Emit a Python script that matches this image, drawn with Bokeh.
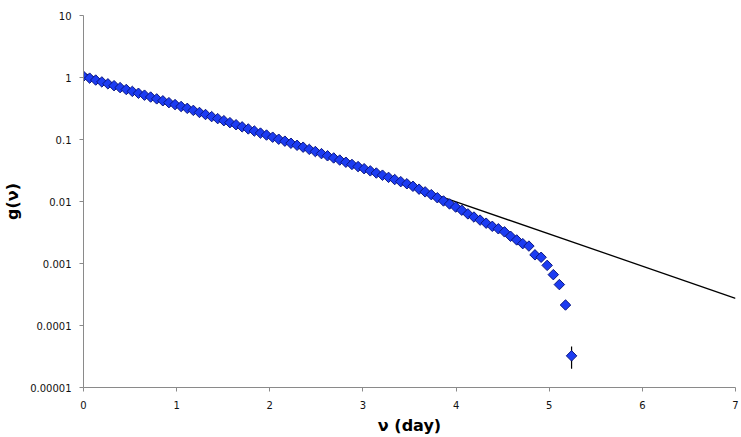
import math
from bokeh.plotting import figure
from bokeh.models import FixedTicker, ColumnDataSource
from bokeh.embed import file_html
from bokeh.resources import INLINE

# ---- data ----
nu_days = [0.0, 0.066, 0.131, 0.197, 0.262, 0.328, 0.393, 0.459, 0.524, 0.590,
           0.655, 0.721, 0.786, 0.852, 0.917, 0.983, 1.048, 1.114, 1.179, 1.245,
           1.310, 1.376, 1.441, 1.507, 1.572, 1.638, 1.703, 1.769, 1.834, 1.900,
           1.965, 2.031, 2.096, 2.162, 2.227, 2.293, 2.358, 2.424, 2.489, 2.555,
           2.620, 2.686, 2.751, 2.817, 2.882, 2.948, 3.013, 3.079, 3.144, 3.210,
           3.275, 3.341, 3.406, 3.472, 3.537, 3.603, 3.668, 3.734, 3.799, 3.865,
           3.930, 3.996, 4.061, 4.127, 4.192, 4.258, 4.323, 4.389, 4.454, 4.520,
           4.585, 4.651, 4.716, 4.782, 4.847, 4.913, 4.978, 5.044, 5.109, 5.175,
           5.240]
g_values = [1.047, 0.977, 0.910, 0.849, 0.791, 0.738, 0.687, 0.641, 0.597, 0.557,
            0.519, 0.484, 0.452, 0.421, 0.393, 0.366, 0.341, 0.318, 0.295, 0.273,
            0.253, 0.234, 0.217, 0.201, 0.187, 0.173, 0.160, 0.148, 0.137, 0.127,
            0.118, 0.109, 0.101, 0.0940, 0.0871, 0.0807, 0.0752, 0.0693, 0.0640, 0.0592,
            0.0546, 0.0504, 0.0466, 0.0430, 0.0396, 0.0366, 0.0338, 0.0312, 0.0288, 0.0266,
            0.0245, 0.0226, 0.0209, 0.0193, 0.0176, 0.0158, 0.0143, 0.0129, 0.0115, 0.0102,
            0.00912, 0.00813, 0.00724, 0.00631, 0.00562, 0.00501, 0.00447, 0.00398, 0.00363, 0.00324,
            0.00275, 0.00240, 0.00209, 0.00191, 0.00138, 0.00126, 0.000933, 0.000661, 0.000457, 0.000214,
            0.0000324]

# error bar on the last point
err_x = [5.240]
err_low = [0.0000200]
err_high = [0.0000460]

# exponential reference line
fit_x = [0.0, 7.0]
fit_y = [1.17, 0.000275]

x_ticks = [0, 1, 2, 3, 4, 5, 6, 7]
y_ticks = [0.00001, 0.0001, 0.001, 0.01, 0.1, 1, 10]
y_tick_labels = ["0.00001", "0.0001", "0.001", "0.01", "0.1", "1", "10"]

# ---- figure ----
p = figure(width=741, height=437, output_backend="svg", toolbar_location=None,
           y_axis_type="log", x_range=(0, 7), y_range=(0.00001, 10),
           min_border_left=83, min_border_right=6, min_border_top=15,
           min_border_bottom=48)
p.outline_line_color = None
p.xgrid.visible = False
p.ygrid.visible = False
p.background_fill_color = "white"
p.border_fill_color = "white"

p.line(fit_x, fit_y, line_color="black", line_width=1.3)
p.segment(x0=err_x, x1=err_x, y0=err_low, y1=err_high, line_color="black", line_width=1.2)

src = ColumnDataSource(dict(x=nu_days, y=g_values))
p.scatter("x", "y", source=src, marker="square", angle=math.pi / 4, size=7.4,
          fill_color="#1c3cf2", line_color="#0b1780", line_width=1)

# axes styling
for ax in (p.xaxis[0], p.yaxis[0]):
    ax.axis_line_color = "#8a8a8a"
    ax.major_tick_line_color = "#8a8a8a"
    ax.minor_tick_line_color = None
    ax.major_tick_in = 0
    ax.major_tick_out = 4
    ax.major_label_text_font = "DejaVu Sans"
    ax.major_label_text_font_size = "10px"
    ax.major_label_text_color = "#111111"
    ax.axis_label_text_font = "DejaVu Sans"
    ax.axis_label_text_font_style = "bold"
    ax.axis_label_text_font_size = "16px"
    ax.axis_label_text_color = "#000000"

p.xaxis.ticker = FixedTicker(ticks=x_ticks)
p.xaxis.major_label_standoff = 9
p.xaxis.axis_label = "ν (day)"
p.xaxis.axis_label_standoff = 4

p.yaxis.ticker = FixedTicker(ticks=y_ticks)
p.yaxis.major_label_overrides = {t: l for t, l in zip(y_ticks, y_tick_labels)}
p.yaxis.major_label_standoff = 8
p.yaxis.axis_label = "g(ν)"
p.yaxis.axis_label_standoff = 5

open("out.html", "w").write(file_html(p, INLINE))
